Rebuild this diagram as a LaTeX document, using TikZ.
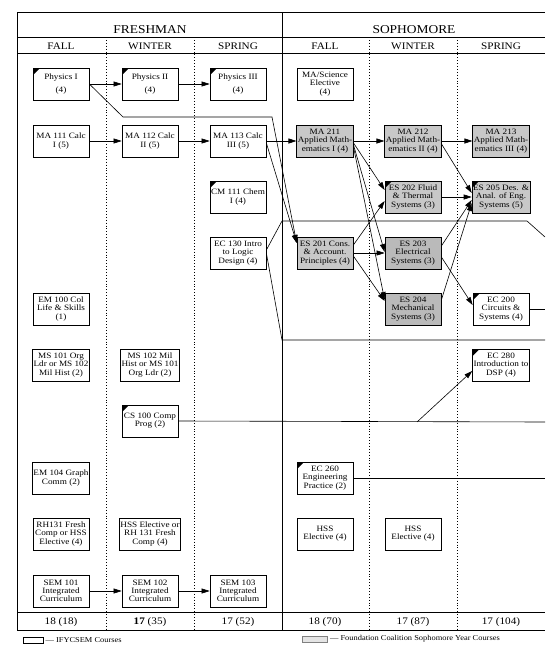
\documentclass[tikz,border=0pt]{standalone}
\usepackage{fontspec}
\setmainfont{Liberation Serif}[FakeStretch=1.12]
\usetikzlibrary{arrows.meta, positioning}
\definecolor{fcgray}{RGB}{200, 200, 200}
\definecolor{fcdark}{RGB}{186, 186, 186}

\tikzset{
  course/.style={draw, line width=0.7pt, fill=white, minimum width=56pt, minimum height=32pt,
    inner sep=1pt, align=center, font=\fontsize{8.2}{8.3}\selectfont},
  fccourse/.style={course, fill=fcgray},
  flagged/.style={path picture={\fill[black] (path picture bounding box.north west) -- ++(7pt,0pt) -- ++(-7pt,-7pt) -- cycle;}},
  prereq/.style={-{Triangle[length=8pt,width=5pt]}, line width=0.6pt},
  flowline/.style={line width=0.6pt},
  gridline/.style={line width=0.8pt},
  termline/.style={dotted, line width=0.9pt},
  headtext/.style={font=\fontsize{12}{12}\selectfont},
  seasontext/.style={font=\fontsize{10}{10}\selectfont},
  keytext/.style={font=\fontsize{7.5}{8}\selectfont, inner sep=1pt}
}

\begin{document}
\begin{tikzpicture}[x=1pt, y=-1pt]
  \useasboundingbox[fill=white] (0,0) rectangle (550,653);

  % frame
  \draw[gridline] (17,630) -- (17,12) -- (545,12);
  \draw[gridline] (282,12) -- (282,630);
  \draw[gridline] (17,37) -- (545,37);
  \draw[gridline] (17,53) -- (545,53);
  \draw[gridline] (17,612) -- (545,612);
  \draw[gridline] (17,630) -- (545,630);
  \foreach \x in {106,194,369,457}
    \draw[termline] (\x,37) -- (\x,630);

  % headers
  \node[headtext] (freshman) at (150,30) {FRESHMAN};
  \node[headtext] (sophomore) at (414,30) {SOPHOMORE};
  \node[seasontext] (ffall) at (61,46) {FALL};
  \node[seasontext] (fwinter) at (150,46) {WINTER};
  \node[seasontext] (fspring) at (238,46) {SPRING};
  \node[seasontext] (sfall) at (325,46) {FALL};
  \node[seasontext] (swinter) at (413,46) {WINTER};
  \node[seasontext] (sspring) at (501,46) {SPRING};

  % freshman courses
  \node[course, flagged] (phys1) at (61,84) {Physics I\\[5pt](4)};
  \node[course, flagged] (phys2) at (150,84) {Physics II\\[5pt](4)};
  \node[course, flagged] (phys3) at (238,84) {Physics III\\[5pt](4)};
  \node[course] (ma111) at (61,141) {MA 111 Calc\\I (5)};
  \node[course] (ma112) at (150,141) {MA 112 Calc\\II (5)};
  \node[course] (ma113) at (238,141) {MA 113 Calc\\III (5)};
  \node[course, flagged] (cm111) at (238,197) {CM 111 Chem\\I (4)};
  \node[course] (ec130) at (238,253) {EC 130 Intro\\to Logic\\Design (4)};
  \node[course] (em100) at (61,309) {EM 100 Col\\Life \& Skills\\(1)};
  \node[course] (ms101) at (61,365) {MS 101 Org\\Ldr or MS 102\\Mil Hist (2)};
  \node[course] (ms102) at (150,365) {MS 102 Mil\\Hist or MS 101\\Org Ldr (2)};
  \node[course, flagged] (cs100) at (150,421) {CS 100 Comp\\Prog (2)};
  \node[course] (em104) at (61,478) {EM 104 Graph\\Comm (2)};
  \node[course] (rh131) at (61,534) {RH131 Fresh\\Comp or HSS\\Elective (4)};
  \node[course] (hssrh) at (150,534) {HSS Elective or\\RH 131 Fresh\\Comp (4)};
  \node[course] (sem101) at (61,591) {SEM 101\\Integrated\\Curriculum};
  \node[course] (sem102) at (150,591) {SEM 102\\Integrated\\Curriculum};
  \node[course] (sem103) at (238,591) {SEM 103\\Integrated\\Curriculum};

  % sophomore courses
  \node[course] (masci) at (325,84) {MA/Science\\Elective\\(4)};
  \node[fccourse] (ma211) at (325,141) {MA 211\\Applied Math-\\ematics I (4)};
  \node[fccourse] (ma212) at (413,141) {MA 212\\Applied Math-\\ematics II (4)};
  \node[fccourse] (ma213) at (501,141) {MA 213\\Applied Math-\\ematics III (4)};
  \node[fccourse, flagged] (es202) at (413,197) {ES 202 Fluid\\\& Thermal\\Systems (3)};
  \node[fccourse, flagged] (es205) at (501,197) {ES 205 Des. \&\\Anal. of Eng.\\Systems (5)};
  \node[fccourse] (es201) at (325,253) {ES 201 Cons.\\\& Account.\\Principles (4)};
  \node[fccourse, fill=fcdark] (es203) at (413,253) {ES 203\\Electrical\\Systems (3)};
  \node[fccourse, fill=fcdark] (es204) at (413,309) {ES 204\\Mechanical\\Systems (3)};
  \node[course, flagged] (ec200) at (501,309) {EC 200\\Circuits \&\\Systems (4)};
  \node[course, flagged] (ec280) at (501,365) {EC 280\\Introduction to\\DSP (4)};
  \node[course, flagged] (ec260) at (325,478) {EC 260\\Engineering\\Practice (2)};
  \node[course] (hss1) at (325,534) {HSS\\Elective (4)};
  \node[course] (hss2) at (413,534) {HSS\\Elective (4)};

  % free ends of the lines
  \coordinate (physbendA) at (123,117);
  \coordinate (physbendB) at (272,117);
  \coordinate (logicA) at (282,221);
  \coordinate (logicB) at (527,221);
  \coordinate (logicC) at (545,237);
  \coordinate (logicD) at (282,340);
  \coordinate (logicE) at (545,340);
  \coordinate (circuitsout) at (545,309);
  \coordinate (progout) at (545,422);
  \coordinate (progsplit) at (417,422);
  \coordinate (practiceout) at (545,478);

  % prerequisite arrows
  \draw[prereq] (phys1) -- (phys2);
  \draw[prereq] (phys2) -- (phys3);
  \draw[prereq] (ma111) -- (ma112);
  \draw[prereq] (ma112) -- (ma113);
  \draw[prereq] (ma113) -- (ma211);
  \draw[prereq] (ma211) -- (ma212);
  \draw[prereq] (ma212) -- (ma213);
  \draw[prereq] (sem101) -- (sem102);
  \draw[prereq] (sem102) -- (sem103);
  \draw[prereq] (phys1.east) -- (physbendA) -- (physbendB) -- ([yshift=10pt]es201.west);
  \draw[prereq] ([yshift=-2pt]ma113.east) -- ([yshift=10pt]es201.west);
  \draw[prereq] ([yshift=-2pt]ma211.east) -- ([yshift=7pt]es202.west);
  \draw[prereq] ([yshift=-4pt]ma211.east) -- ([yshift=1pt]es203.west);
  \draw[prereq] ([yshift=-6pt]ma211.east) -- ([yshift=9pt]es204.west);
  \draw[prereq] ([yshift=8pt]es201.east) -- ([yshift=-4pt]es202.west);
  \draw[prereq] (es201) -- (es203);
  \draw[prereq] ([yshift=-3pt]es201.east) -- ([yshift=8pt]es204.west);
  \draw[prereq] ([yshift=-3pt]ma212.east) -- ([yshift=4pt]es205.west);
  \draw[prereq] (es202) -- (es205);
  \draw[prereq] ([yshift=7pt]es203.east) -- ([yshift=-3pt]es205.west);
  \draw[prereq] ([yshift=9pt]es204.east) -- ([yshift=-6pt]es205.west);
  \draw[prereq] ([yshift=-4pt]es203.east) -- ([yshift=4pt]ec200.west);

  % lines into the junior year
  \draw[flowline] ([yshift=3pt]ec130.east) -- (logicA) -- (logicB) -- (logicC);
  \draw[flowline] (ec130.east) -- (logicD) -- (logicE);
  \draw[flowline] (ec200.east) -- (circuitsout);
  \draw[flowline] (cs100.east) -- (progout);
  \draw[prereq] (progsplit) -- ([yshift=-6pt]ec280.west);
  \draw[flowline] (ec260.east) -- (practiceout);

  % credit totals
  \node[seasontext] (tot1) at (61,622) {18 (18)};
  \node[seasontext] (tot2) at (150,622) {\textbf{17} (35)};
  \node[seasontext] (tot3) at (238,622) {17 (52)};
  \node[seasontext] (tot4) at (325,622) {18 (70)};
  \node[seasontext] (tot5) at (413,622) {17 (87)};
  \node[seasontext] (tot6) at (501,622) {17 (104)};

  % legend
  \node[draw, line width=0.7pt, minimum width=20pt, minimum height=6pt, inner sep=0pt] (keyifyc) at (33,640) {};
  \node[keytext, right=1pt of keyifyc] (keyifyctext) {--- IFYCSEM Courses};
  \node[draw=gray, fill=fcgray!50, line width=0.7pt, minimum width=25pt, minimum height=6pt, inner sep=0pt] (keyfc) at (315,639) {};
  \node[keytext, right=1pt of keyfc] (keyfctext) {--- Foundation Coalition Sophomore Year Courses};
\end{tikzpicture}
\end{document}
